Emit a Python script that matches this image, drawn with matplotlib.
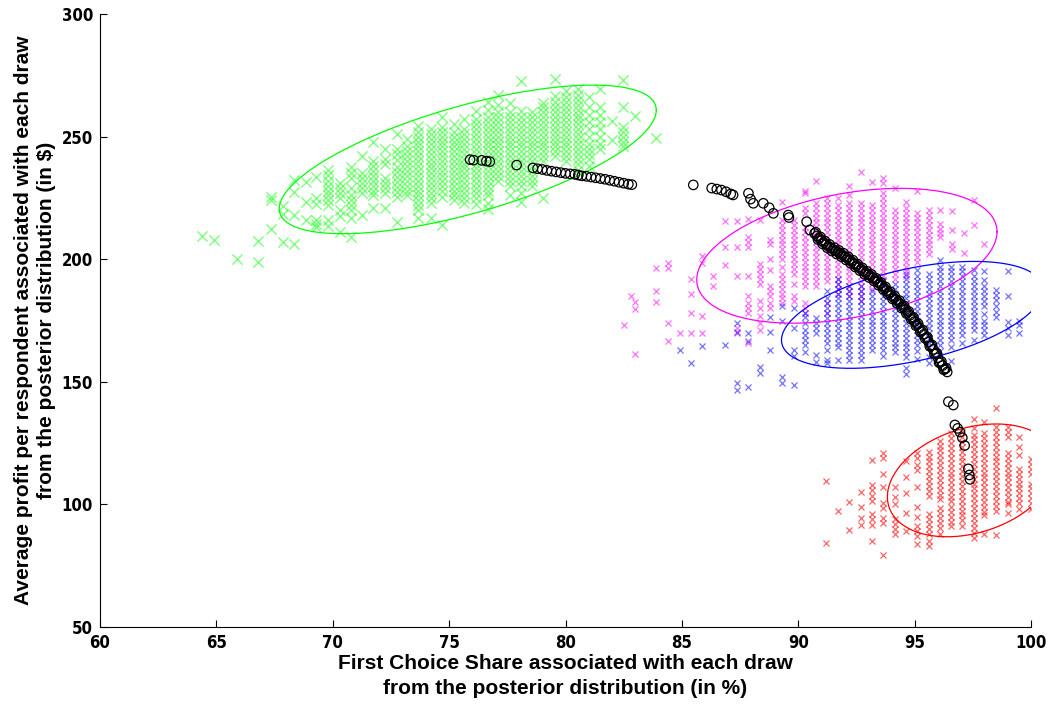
import numpy as np
import matplotlib
matplotlib.use("Agg")
import matplotlib.pyplot as plt
from matplotlib import font_manager as fm

# ---------------- data ----------------
# each cluster: list of (first-choice share %, [profit values in that column])
green_cols = [
    (64.4, [209.5]), (64.9, [208]), (65.9, [200]), (66.8, [199, 207.5]),
    (67.35, [212.5, 224, 225.5]), (67.85, [207, 218.5, 221.5]),
    (68.35, [206, 218, 227.5, 232.5]), (68.85, [216, 223.5, 231.5]),
    (69.3, [213, 214.5, 216, 222.5, 225, 233.5]),
    (69.8, [213.5, 216, 222, 224, 226, 228, 230, 232, 234.5, 236.5]),
    (70.3, [211, 217.5, 220, 225, 227, 229, 231]),
    (70.8, [209, 217, 220, 222, 224, 226, 229, 233, 235, 237.5]),
    (71.25, [218, 227, 229, 231, 233, 235, 242]),
    (71.75, [221, 226, 228, 230, 232, 234, 236, 238, 240, 248]),
    (72.25, [221, 227, 229, 231, 233, 239, 241, 245]),
    (72.75, [215, 225.5, 227.5, 229.5, 231.5, 233.5, 235.5, 237.5, 240.5, 243, 245, 251]),
    (73.2, [226, 228, 230, 232, 234, 236, 238, 240, 242, 244, 246, 249]),
    (73.65, [217, 220, 222, 224, 226, 228, 230, 232, 234, 236, 238, 240, 242, 244, 246, 248, 250, 252, 254.5]),
    (74.2, [217, 223, 225, 227, 229, 231, 233, 235, 237, 239, 241, 243, 245, 247, 249, 251, 253]),
    (74.7, [214, 225.5, 228, 230, 232, 234, 236, 238, 240, 242, 244, 246, 248, 250, 252, 254, 258]),
    (75.2, [224, 226, 228, 230, 232, 234, 236, 238, 240, 242, 244, 246, 248, 250, 252, 255]),
    (75.65, [223, 225, 227, 229, 231, 233, 235, 237, 239, 241, 243, 245, 247, 249, 251, 253, 257]),
    (76.15, [222.5, 225, 227, 229, 231, 233, 235, 237, 239, 241, 243, 245, 247, 249, 251, 253, 255, 257, 260.5]),
    (76.65, [220.5, 223, 226, 228, 230, 232, 234, 236, 238, 240, 242, 244, 246, 248, 250, 252, 254, 256, 258, 261, 264]),
    (77.1, [232, 234, 236, 238, 240, 242, 244, 246, 248, 250, 252, 254, 256, 258, 260, 263, 267]),
    (77.6, [226, 230, 232, 234, 236, 238, 240, 242, 244, 246, 248, 250, 252, 254, 256, 258, 260, 263.5]),
    (78.1, [223.5, 227, 230, 232, 234, 236, 238, 240, 242, 244, 246, 248, 250, 252, 254, 256, 258, 260.5, 272.5]),
    (78.55, [230, 232, 234, 236, 238, 240, 242, 244, 246, 248, 250, 252, 254, 256, 258, 260]),
    (79.05, [225, 240, 242, 244, 246, 248, 250, 252, 254, 256, 258, 260, 262, 263.5]),
    (79.55, [242, 244, 246, 248, 250, 252, 254, 256, 258, 260, 262, 264, 266.5, 273.5]),
    (80.0, [240, 242, 244, 246, 248, 250, 252, 254, 256, 258, 260, 262, 264, 266, 268.5]),
    (80.55, [236.5, 239, 241, 243, 245, 247, 249, 251, 253, 255, 257, 259, 261, 263, 265, 267, 269.5]),
    (81.0, [238, 241, 243, 245, 247, 250, 253, 256, 259, 262, 266]),
    (81.5, [245, 247, 250, 253, 256, 259, 262, 269.5]),
    (82.0, [248.5, 256.5]),
    (82.45, [246, 248, 250, 252, 254, 262, 273]),
    (83.0, [258.5]),
    (83.9, [249.5]),
]

magenta_cols = [
    (82.5, [173]), (82.8, [185]), (83.0, [182.5, 179.5, 161.5]),
    (83.9, [196.5, 187, 182.5]), (84.4, [198.5, 196.5, 174, 166.5]),
    (84.9, [170]), (85.4, [192, 186, 178, 170]), (85.85, [201.5, 198.5, 177, 170]),
    (86.35, [193, 189]), (86.85, [215.5, 205, 197.5]),
    (87.35, [215.5, 205, 193, 172, 170]),
    (87.85, [216.5, 209, 207, 205, 193, 185, 182, 180, 178, 166]),
    (88.35, [216, 198, 196, 194, 192, 190, 183, 180, 177, 174, 171]),
    (88.8, [208, 206, 200, 195.5, 189, 187, 185, 182, 180]),
    (89.3, [223.5, 216, 214, 212, 210, 208, 206, 204, 202, 200, 197, 194, 192, 190, 188, 186, 184, 182]),
    (89.8, [216, 214, 212, 210, 208, 206, 204, 202, 200, 198, 196, 194, 190, 185, 183]),
    (90.3, [228, 227, 221, 219, 213, 211, 209, 207, 205, 203, 201, 199, 197, 195, 193, 191, 189, 182, 180, 178]),
    (90.75, [232, 223, 221, 219, 217, 215, 213, 211, 209, 207, 205, 203, 201, 199, 197, 195, 193, 191, 189]),
    (91.25, [225, 223, 221, 219, 217, 215, 213, 211, 209, 207, 205, 203, 201, 199, 197, 195, 193, 191, 182, 178]),
    (91.7, [225, 222, 220, 218, 216, 214, 212, 210, 208, 206, 204, 202, 200, 198, 196, 194, 192, 190, 188, 186]),
    (92.2, [230, 226, 223, 221, 219, 217, 215, 213, 211, 209, 207, 205, 203, 201, 199, 197, 195, 193, 191, 189, 187, 185]),
    (92.7, [235.5, 223, 221, 219, 217, 215, 213, 211, 209, 207, 205, 203, 201, 199, 197, 195, 193, 191, 189, 187, 185, 183]),
    (93.15, [231.5, 222, 220, 218, 216, 214, 212, 210, 208, 206, 204, 202, 200, 198, 196, 194, 192, 190, 188]),
    (93.65, [233, 231, 227, 225, 223, 221, 219, 217, 215, 213, 211, 209, 207, 205, 203, 201, 199, 197, 195, 193, 191, 189]),
    (94.15, [229, 220, 218, 216, 214, 212, 210, 208, 206, 204, 202, 200, 198, 196, 194, 192]),
    (94.65, [223.5, 221, 219, 217, 215, 213, 211, 209, 207, 205, 203, 201, 199, 197, 195, 193]),
    (95.1, [228, 219, 217, 215, 213, 211, 209, 207, 205, 203, 201, 199]),
    (95.6, [220, 218, 216, 214, 212, 210, 208, 206, 204, 202]),
    (96.1, [220, 214.5, 212.5, 210.5, 209]),
    (96.6, [219.5, 212, 206, 204]),
    (97.1, [210.5, 202.5]),
    (97.55, [224, 214]),
    (98.0, [206]),
]

blue_cols = [
    (84.9, [163]), (85.4, [157.5]), (85.85, [164.5]), (86.85, [165]),
    (87.35, [174, 170.5, 149.5, 146.5]), (87.85, [170, 166.5, 148]),
    (88.35, [156, 153.5]), (88.8, [176.5, 170.5, 163]),
    (89.3, [181, 175, 152, 149.5]), (89.8, [180, 172, 163, 160.5, 148.5]),
    (90.3, [178, 176.5, 174, 171, 169, 167, 165, 162]),
    (90.75, [176, 174, 172, 170, 161, 158]),
    (91.25, [187, 184, 182, 180, 178, 176, 174, 172, 170, 168, 166, 163, 159, 157.5]),
    (91.7, [192, 190, 188, 186, 184, 182, 180, 178, 176, 174, 172, 170, 168, 166, 164, 159]),
    (92.2, [189, 187, 185, 183, 181, 179, 177, 175, 173, 171, 169, 167, 165, 163, 161, 159]),
    (92.7, [189, 187, 185, 183, 181, 179, 177, 175, 173, 171, 169, 167, 165, 163, 161, 159]),
    (93.15, [187, 185, 183, 181, 179, 177, 175, 173, 171, 169, 167, 165, 163]),
    (93.65, [191.5, 189, 187, 185, 183, 181, 179, 177, 175, 173, 171, 169, 167, 165, 163, 160.5]),
    (94.15, [190, 188, 186, 184, 182, 180, 178, 176, 174, 172, 170, 168, 166, 164, 162]),
    (94.65, [194, 192, 190, 188, 186, 184, 182, 180, 178, 176, 174, 172, 170, 168, 166, 164, 162, 160, 155.5, 153]),
    (95.1, [195.5, 193, 191, 189, 187, 185, 183, 181, 179, 177, 175, 173, 171, 169, 167, 165, 162.5, 159.5]),
    (95.6, [194, 192, 190, 188, 186, 184, 182, 180, 178, 176, 174, 172, 170, 168, 166, 164, 160, 157.5]),
    (96.1, [199.5, 197, 195, 193, 191, 189, 187, 185, 183, 181, 179, 177, 175, 173, 171, 169, 167, 165, 162.5]),
    (96.55, [197, 195, 193, 191, 189, 187, 185, 183, 181, 179, 177, 175, 173, 171, 169, 167, 164, 158.5]),
    (97.05, [197, 195, 193, 191, 189, 187, 185, 183, 181, 179, 177, 175, 173, 171, 169, 166]),
    (97.55, [195.5, 193, 191, 189, 187, 185, 183, 181, 179, 177, 175, 173, 171, 167]),
    (98.0, [195, 191.5, 189, 187, 185, 183, 181, 177.5, 175, 173, 171, 169]),
    (98.5, [187.5, 185.5, 183.5, 181, 178.5, 176.5]),
    (99.0, [195, 185, 174.5, 172, 169]),
    (99.5, [175, 173, 170]),
]

red_cols = [
    (91.2, [109.7, 84.4]), (91.7, [97.4]), (92.2, [101, 89.6]),
    (92.7, [105, 99, 94.5, 91.5]),
    (93.15, [118, 108, 106, 103.5, 101.5, 96, 94, 91.5, 85]),
    (93.65, [121, 119, 112.5, 107, 100.5, 98.5, 94.5, 92.5, 79.5]),
    (94.15, [107, 103, 100, 94, 92, 90, 88]),
    (94.65, [117.5, 111, 104.5, 96.5, 89]),
    (95.1, [121, 119, 116, 114, 107, 99, 95, 91, 89, 87, 84]),
    (95.6, [121.5, 119.5, 117.5, 115.5, 113.5, 111.5, 109.5, 107.5, 105.5, 103.5, 96, 94, 92, 90, 88, 85, 83]),
    (96.1, [126, 124, 122, 120, 118, 116, 114, 112, 110, 108, 106, 104, 102, 98.5, 96.5, 94.5, 92.5, 90.5, 88]),
    (96.55, [129, 127, 125, 123, 121, 119, 117, 115, 113, 111, 109, 107, 105, 103, 101.5, 99, 97, 95, 93, 91]),
    (97.05, [129.5, 127.5, 125.5, 123.5, 121.5, 119.5, 117.5, 115.5, 113.5, 111.5, 109.5, 107.5, 105.5, 103.5, 101.5, 99.5, 97.5, 95.5, 93.5, 91]),
    (97.55, [134.7, 131, 128.5, 126.5, 124.5, 122.5, 120.5, 118.5, 116.5, 114.5, 112.5, 110.5, 108.5, 106.5, 104.5, 102.5, 100.5, 98.5, 96.5, 94.5, 92.5, 90.5, 88.5, 86.5]),
    (98.0, [133.8, 129, 127, 125, 123, 121, 119, 117, 115, 113, 111, 109, 107, 105, 103, 101, 99, 97, 95.5, 88]),
    (98.5, [139.2, 131.5, 129.5, 127.5, 125.5, 123.5, 121.5, 119.5, 117.5, 115.5, 113.5, 111.5, 109.5, 107.5, 105.5, 103.5, 101.5, 99.5, 97.5, 87.5]),
    (99.0, [131.5, 129.5, 127.5, 121, 119, 117, 115, 113, 111, 109, 107, 105, 103, 101, 100, 96.5]),
    (99.5, [127.5, 123.5, 120, 114.5, 112.5, 110.5, 108.5, 106.5, 104.5, 102.5, 100.5, 98]),
    (100.0, [118.5, 116.5, 114.5, 112.5, 108.5, 106.5, 104.5, 102.5, 100.5, 98]),
]

# black open circles (trade-off curve)
curve_x = [75.9, 76.05, 76.4, 76.6, 76.75, 77.9, 78.6, 78.8, 79.0, 79.2, 79.4, 79.6, 79.8, 80.0,
           80.2, 80.4, 80.55, 80.7, 80.9, 81.1, 81.3, 81.5, 81.7, 81.9, 82.1, 82.3, 82.5, 82.7, 82.85,
           85.49, 86.28, 86.5, 86.7, 86.9, 87.1, 87.2, 87.86, 87.95, 88.07, 88.5, 88.75, 88.93,
           89.57, 89.6, 90.36, 90.5, 90.7, 90.8, 90.9, 91.0, 91.1, 91.2, 91.3, 91.4, 91.5, 91.6,
           91.7, 91.8, 91.9, 92.0, 92.1, 92.2, 92.3, 92.4, 92.5, 92.6, 92.7, 92.8, 92.9, 93.0,
           93.1, 93.2, 93.3, 93.4, 93.5, 93.6, 93.7, 93.8, 93.9, 94.0, 94.1, 94.2, 94.3, 94.4,
           94.5, 94.6, 94.7, 94.8, 94.9, 95.0, 95.1, 95.2, 95.3, 95.4, 95.5, 95.6, 95.7, 95.8,
           95.9, 96.0, 96.1, 96.2, 96.3, 96.4,
           96.45, 96.66, 96.73, 96.85, 96.95, 97.05, 97.15, 97.31, 97.35, 97.38]
curve_y = [240.6, 240.4, 240.3, 240.0, 239.8, 238.4, 237.2, 236.9, 236.6, 236.2, 235.9, 235.6, 235.3, 235.0,
           234.8, 234.6, 234.3, 234.0, 233.8, 233.5, 233.2, 232.9, 232.6, 232.2, 231.8, 231.4, 231.0, 230.6, 230.4,
           230.3, 229.0, 228.6, 228.2, 227.5, 226.6, 226.2, 226.9, 224.5, 222.8, 222.8, 221.0, 218.7,
           218.0, 217.0, 215.3, 211.9, 210.5, 209.5, 208.6, 207.6, 206.8, 206.0, 205.3, 204.6, 204.0, 203.4,
           202.9, 202.4, 201.7, 201.0, 200.4, 199.7, 199.0, 198.2, 197.4, 196.7, 195.9, 195.2, 194.5, 193.8,
           193.2, 192.5, 191.7, 190.8, 190.0, 189.1, 188.2, 187.2, 186.2, 185.2, 184.3, 183.5, 182.6, 181.6,
           180.5, 179.4, 178.3, 177.1, 175.9, 174.6, 173.3, 172.0, 170.7, 169.4, 168.0, 166.3, 164.8, 163.2,
           161.5, 159.8, 157.9, 156.6, 155.2, 154.0,
           141.9, 140.5, 132.4, 131.0, 129.5, 127.2, 124.0, 114.5, 112.0, 110.2]
# extra circles in the dense (solid-looking) part of the curve
band_x = [90.75, 90.85, 90.95, 91.05, 91.15, 91.25, 91.35, 91.45, 91.55, 91.65, 91.75, 91.85,
          91.95, 92.05, 92.15, 92.25, 92.35, 92.45, 92.55, 92.65, 92.75, 92.85, 92.95, 93.05,
          93.15, 93.25, 93.35, 93.45, 93.55, 93.65, 93.75, 93.85, 93.95, 94.05, 94.15, 94.25,
          94.35, 94.45, 94.55, 94.65, 94.75, 94.85, 94.95, 95.05, 95.15, 95.25, 95.35, 95.45,
          95.55, 95.65, 95.75, 95.85, 95.95, 96.05, 96.15, 96.25, 96.35]
band_y = [211.0, 208.0, 209.1, 206.2, 207.4, 204.6, 206.0, 203.3, 204.7, 202.1, 203.6, 201.0,
          202.4, 199.7, 201.0, 198.3, 199.6, 196.8, 198.0, 195.3, 196.5, 193.8, 195.1, 192.5,
          193.8, 191.1, 192.2, 189.4, 190.5, 187.7, 188.7, 185.7, 186.7, 183.8, 184.9, 182.0,
          183.1, 180.0, 181.0, 177.8, 178.7, 175.5, 176.3, 172.9, 173.7, 170.3, 171.1, 167.7,
          168.2, 164.5, 165.0, 161.3, 161.7, 157.8, 158.3, 154.9, 155.6]

# ellipse outlines: centre, half x-extent, half y-extent, cos(phase) (tilt)
ell_names = ["green", "magenta", "blue", "red"]
ell_cx = [75.8, 92.09, 94.9, 97.45]
ell_cy = [240.7, 201.4, 177.3, 109.8]
ell_rx = [8.1, 6.45, 5.62, 3.62]
ell_ry = [30.3, 27.5, 21.8, 23.0]
ell_cos = [0.663, 0.356, 0.472, 0.291]

x_ticks = [60, 65, 70, 75, 80, 85, 90, 95, 100]
y_ticks = [50, 100, 150, 200, 250, 300]
x_label = "First Choice Share associated with each draw\nfrom the posterior distribution (in %)"
y_label = "Average profit per respondent associated with each draw\nfrom the posterior distribution (in $)"


# ---------------- fonts ----------------
def pick_narrow():
    cands = [("Liberation Sans Narrow", "normal"), ("Arial Narrow", "normal"),
             ("DejaVu Sans", "condensed"), ("Open Sans", "condensed"), ("Roboto", "condensed")]
    for fam, stretch in cands:
        try:
            p = fm.findfont(fm.FontProperties(family=fam, stretch=stretch, weight="bold"),
                            fallback_to_default=False)
        except Exception:
            continue
        low = p.lower()
        if stretch == "condensed" and "condensed" not in low:
            continue
        return fam, stretch
    return "Liberation Sans", "normal"


narrow_fam, narrow_stretch = pick_narrow()
plt.rcParams["font.family"] = ["Liberation Sans", "DejaVu Sans"]

# ---------------- drawing ----------------
fig = plt.figure(figsize=(10.51, 7.09), dpi=100)
ax = fig.add_axes([100 / 1051, 82 / 709, 931 / 1051, 613 / 709])


def flatten(cols):
    xs, ys = [], []
    for x, vals in cols:
        xs.extend([x] * len(vals))
        ys.extend(vals)
    return np.array(xs), np.array(ys)


colors = {"green": "#00ff00", "magenta": "#ff00ff", "blue": "#0000ff", "red": "#ff0000"}
cluster_data = [("green", green_cols, 54, 1.0, 0.5), ("magenta", magenta_cols, 19, 0.9, 0.55),
                ("blue", blue_cols, 19, 0.9, 0.55), ("red", red_cols, 19, 0.9, 0.6)]

for name, cols, s, lw, a in cluster_data:
    xs, ys = flatten(cols)
    ax.scatter(xs, ys, marker="x", s=s, c=colors[name], alpha=a, linewidths=lw, zorder=2)

t = np.linspace(0, 2 * np.pi, 400)
for name, cx, cy, rx, ry, cp in zip(ell_names, ell_cx, ell_cy, ell_rx, ell_ry, ell_cos):
    phi = np.arccos(cp)
    ax.plot(cx + rx * np.cos(t), cy + ry * np.cos(t + phi), color=colors[name], lw=0.9, zorder=3)

ax.scatter(list(curve_x) + list(band_x), list(curve_y) + list(band_y), marker="o", s=46,
           facecolors="none", edgecolors="black", linewidths=0.9, zorder=4)

ax.set_xlim(60, 100)
ax.set_ylim(50, 300)
ax.set_xticks(x_ticks)
ax.set_yticks(y_ticks)
ax.tick_params(direction="in", length=5, width=0.8)
ax.tick_params(axis="x", pad=5)
ax.tick_params(axis="y", pad=5)
for lab in ax.get_xticklabels() + ax.get_yticklabels():
    lab.set_fontfamily(narrow_fam)
    lab.set_fontstretch(narrow_stretch)
    lab.set_fontweight("bold")
    lab.set_fontsize(12 if narrow_stretch != "normal" or "Narrow" in narrow_fam else 11)
ax.spines["top"].set_visible(False)
ax.spines["right"].set_visible(False)
for sp in ("left", "bottom"):
    ax.spines[sp].set_linewidth(0.8)

ax.set_xlabel(x_label, fontsize=15, fontweight="bold", linespacing=1.4)
ax.xaxis.set_label_coords(0.5, -0.044)
ax.set_ylabel(y_label, fontsize=15, fontweight="bold", linespacing=1.25)
ax.yaxis.set_label_coords(-0.047, 0.5)

fig.savefig("out.png", dpi=100)
